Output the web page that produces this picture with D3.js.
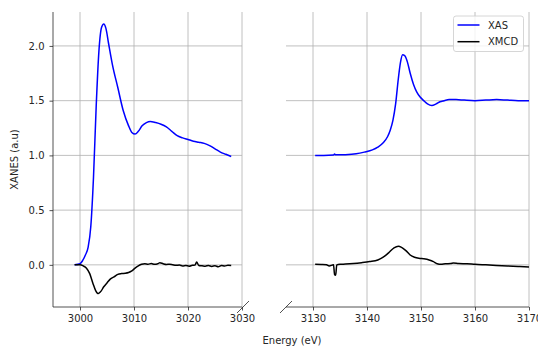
<!DOCTYPE html>
<html><head><meta charset="utf-8">
<script src="https://cdn.jsdelivr.net/npm/d3@7"></script>
<style>
body{margin:0;background:#fff;}
svg{display:block;font-family:"DejaVu Sans",sans-serif;}
</style></head><body>
<svg id="c" width="538" height="347"></svg>
<script>
// ---- data ----
const xasLeftE = [2999,3000,3000.5,3001,3001.5,3002,3002.5,3003,3003.5,3004,3004.4,3004.8,3005.3,3006,3007,3008,3009,3009.6,3010.2,3010.8,3011.5,3012.3,3013,3014,3015,3016,3017,3018,3019,3020,3021,3022,3023,3024,3025,3026,3027,3028];
const xasLeftV = [0.0,0.01,0.04,0.09,0.16,0.35,0.80,1.45,1.95,2.17,2.20,2.16,2.02,1.83,1.62,1.41,1.27,1.21,1.195,1.22,1.27,1.30,1.31,1.30,1.285,1.26,1.22,1.18,1.16,1.145,1.13,1.12,1.11,1.09,1.06,1.03,1.01,0.99];
const xmcdLeftE = [2999,3000,3000.6,3001.2,3001.8,3002.4,3002.9,3003.2,3003.4,3003.6,3003.9,3004.4,3005,3005.6,3006.3,3007,3007.7,3008.4,3009,3009.6,3010.2,3010.8,3011.4,3012,3012.6,3013.2,3013.8,3014.4,3014.8,3015.4,3016,3016.6,3017.2,3017.8,3018.4,3019,3019.6,3020.2,3020.8,3021.3,3021.6,3022,3022.6,3023.2,3023.8,3024.4,3025,3025.6,3026.2,3026.8,3027.4,3028];
const xmcdLeftV = [0,0,-0.01,-0.03,-0.08,-0.17,-0.235,-0.258,-0.262,-0.255,-0.24,-0.20,-0.165,-0.13,-0.11,-0.087,-0.08,-0.077,-0.07,-0.055,-0.03,-0.01,0.005,0.01,0.006,0.012,0.005,0.01,0.02,0.01,0.004,0.006,0.0,-0.004,-0.002,-0.01,-0.006,-0.012,-0.004,-0.002,0.025,-0.005,-0.008,-0.012,-0.006,-0.014,-0.008,-0.018,-0.006,-0.01,-0.004,-0.006];
const xasRightE = [3130.4,3132,3133.8,3134,3134.2,3136,3138,3139.5,3141,3142,3143,3143.8,3144.3,3144.8,3145.3,3145.8,3146.2,3146.6,3147,3147.5,3148,3148.6,3149.2,3149.8,3150.5,3151.2,3152,3152.8,3153.5,3154.3,3155.2,3156.5,3158,3160,3162,3164,3166,3168,3170];
const xasRightV = [1.0,1.0,1.004,1.012,1.005,1.007,1.015,1.03,1.05,1.075,1.115,1.17,1.23,1.32,1.47,1.70,1.85,1.92,1.91,1.85,1.75,1.65,1.58,1.535,1.50,1.47,1.455,1.47,1.49,1.50,1.51,1.51,1.505,1.50,1.505,1.51,1.505,1.50,1.50];
const xmcdRightE = [3130.4,3131.5,3132.5,3133,3133.8,3134.0,3134.2,3134.4,3135,3136,3137.5,3139,3140.5,3142,3143,3144,3145,3145.8,3146.4,3147.2,3148,3148.8,3149.6,3150.5,3151.5,3152.3,3153,3153.7,3154.5,3155.5,3156,3157,3158.5,3160,3162,3164,3166,3168,3170];
const xmcdRightV = [0.005,0.003,0.0,-0.01,0.0,-0.09,-0.095,0.0,0.005,0.007,0.012,0.02,0.03,0.045,0.07,0.11,0.155,0.17,0.16,0.13,0.09,0.07,0.06,0.055,0.045,0.03,0.01,0.005,0.01,0.012,0.018,0.012,0.01,0.005,0.0,-0.005,-0.01,-0.015,-0.02];
const leftTicks = [3000,3010,3020,3030];
const rightTicks = [3130,3140,3150,3160,3170];
const yTicks = [0.0,0.5,1.0,1.5,2.0];
const seriesNames = ["XAS","XMCD"];
const seriesColors = ["#0000ff","#000000"];

// ---- layout ----
const svg = d3.select("#c");
const plotTop = 12, plotBottom = 307;
const y = d3.scaleLinear().domain([-0.385, 2.31]).range([plotBottom, plotTop]);
const xL = d3.scaleLinear().domain([2995, 3030]).range([53, 242]);
const xR = d3.scaleLinear().domain([3125, 3170]).range([286, 529]);
const fs = "10px";
const txt = "#262626";

function panel(x, ticks, showY, sets) {
  const [x0, x1] = x.range();
  const g = svg.append("g");
  g.selectAll(".gx").data(ticks).join("line")
    .attr("x1", d => x(d)).attr("x2", d => x(d)).attr("y1", plotTop).attr("y2", plotBottom)
    .attr("stroke", "#b0b0b0").attr("stroke-width", 0.8);
  g.selectAll(".gy").data(yTicks).join("line")
    .attr("x1", x0).attr("x2", x1).attr("y1", d => y(d)).attr("y2", d => y(d))
    .attr("stroke", "#b0b0b0").attr("stroke-width", 0.8);
  const clipId = "clip" + Math.round(x0);
  svg.append("clipPath").attr("id", clipId).append("rect")
    .attr("x", x0).attr("y", plotTop).attr("width", x1 - x0).attr("height", plotBottom - plotTop);
  sets.forEach((s, i) => {
    const pts = s[0].map((e, k) => [e, s[1][k]]);
    g.append("path").datum(pts)
      .attr("clip-path", `url(#${clipId})`)
      .attr("fill", "none").attr("stroke", seriesColors[i]).attr("stroke-width", 1.5)
      .attr("stroke-linejoin", "round")
      .attr("d", d3.line().x(d => x(d[0])).y(d => y(d[1])).curve(d3.curveMonotoneX));
  });
  const ax = g.append("g").attr("transform", `translate(0,${plotBottom})`)
    .call(d3.axisBottom(x).tickValues(ticks).tickSize(3.5).tickPadding(4).tickFormat(d3.format("d")));
  ax.select(".domain").attr("stroke", txt).attr("stroke-width", 0.8).attr("d", `M${x0},0H${x1}`);
  ax.selectAll(".tick line").attr("stroke", txt).attr("stroke-width", 0.8);
  ax.selectAll("text").attr("font-size", fs).attr("fill", txt).attr("font-family", "DejaVu Sans");
  if (showY) {
    const ay = g.append("g").attr("transform", `translate(${x0},0)`)
      .call(d3.axisLeft(y).tickValues(yTicks).tickSize(3.5).tickPadding(5).tickFormat(d3.format(".1f")));
    ay.select(".domain").attr("stroke", txt).attr("stroke-width", 0.8).attr("d", `M0,${plotTop}V${plotBottom}`);
    ay.selectAll(".tick line").attr("stroke", txt).attr("stroke-width", 0.8);
    ay.selectAll("text").attr("font-size", fs).attr("fill", txt).attr("font-family", "DejaVu Sans");
  }
  return g;
}

panel(xL, leftTicks, true, [[xasLeftE, xasLeftV], [xmcdLeftE, xmcdLeftV]]);
panel(xR, rightTicks, false, [[xasRightE, xasRightV], [xmcdRightE, xmcdRightV]]);

// break marks
const dd = 6;
[xL.range()[1] + 1, xR.range()[0]].forEach(bx => {
  svg.append("line").attr("x1", bx - dd).attr("y1", plotBottom + dd).attr("x2", bx + dd).attr("y2", plotBottom - dd)
    .attr("stroke", txt).attr("stroke-width", 0.8);
});

// labels
svg.append("text").attr("x", (xL.range()[0] + xR.range()[1]) / 2 + 1).attr("y", 344)
  .attr("text-anchor", "middle").attr("font-size", fs).attr("fill", txt).text("Energy (eV)");
svg.append("text").attr("transform", `translate(18,${(plotTop + plotBottom) / 2}) rotate(-90)`)
  .attr("text-anchor", "middle").attr("font-size", fs).attr("fill", txt).text("XANES (a.u)");

// legend
const lg = svg.append("g").attr("transform", "translate(453.5,16)");
lg.append("rect").attr("width", 70).attr("height", 35.5).attr("rx", 2.5)
  .attr("fill", "#fff").attr("fill-opacity", 0.8).attr("stroke", "#cccccc").attr("stroke-width", 0.8);
seriesNames.forEach((n, i) => {
  const yy = 9 + i * 16.7;
  lg.append("line").attr("x1", 4).attr("x2", 26).attr("y1", yy).attr("y2", yy)
    .attr("stroke", seriesColors[i]).attr("stroke-width", 1.5);
  lg.append("text").attr("x", 34.5).attr("y", yy + 3.6).attr("font-size", fs).attr("fill", txt).text(n);
});
</script>
</body></html>
